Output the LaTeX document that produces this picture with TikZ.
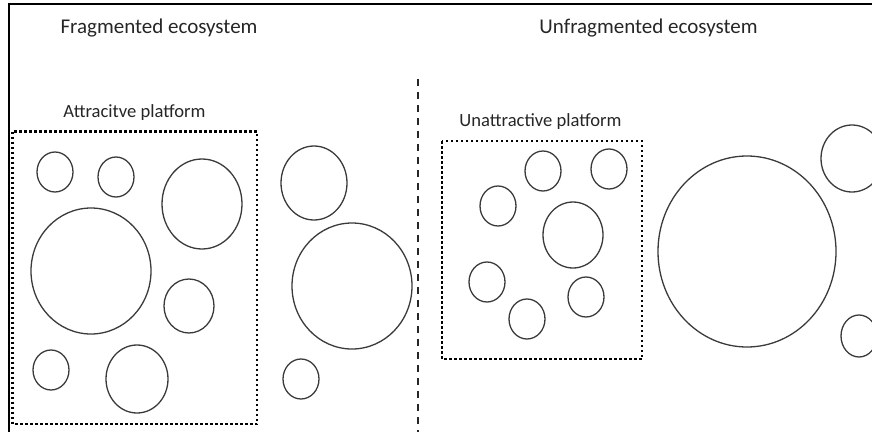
\documentclass[tikz,border=0pt]{standalone}
\usepackage{fontspec}
\setmainfont{Carlito}
\usetikzlibrary{shapes.geometric}
\definecolor{ink}{HTML}{262626}
\definecolor{rim}{HTML}{3A3A3A}
\tikzset{
  cell/.style={ellipse, draw=rim, line width=1.3pt, inner sep=0pt, fill=none},
  platform/.style={draw=black, line width=2.6pt, dash pattern=on 2.5pt off 2.5pt},
  heading/.style={text=ink, font=\fontsize{21}{25}\selectfont, inner sep=0pt},
  boxlabel/.style={text=ink, font=\fontsize{18.6}{22}\selectfont, inner sep=0pt},
  divider/.style={draw=ink, line width=1.8pt, dash pattern=on 7pt off 6pt},
  frame/.style={draw=black, line width=2pt}
}
\newcommand{\cellat}[5]{\node[cell, minimum width=#4pt, minimum height=#5pt] (#1) at (#2,#3) {};}
\begin{document}
\begin{tikzpicture}[x=1pt, y=-1pt]
  \useasboundingbox (0,0) rectangle (872,431);
  \clip (0,0) rectangle (872,431);
  % outer frame: top and left edges only
  \coordinate (fTL) at (9,4);
  \coordinate (fTR) at (873,4);
  \coordinate (fBL) at (9,432);
  \draw[frame] (fTR) -- (fTL) -- (fBL);

  % headings
  \node[heading] (hFrag) at (159,28.5) {Fragmented ecosystem};
  \node[heading] (hUnfrag) at (648.5,28.5) {Unfragmented ecosystem};

  % divider between the two ecosystems
  \coordinate (dTop) at (418,79);
  \coordinate (dBot) at (418,436);
  \draw[divider] (dTop) -- (dBot);

  % fragmented side: attractive platform
  \node[boxlabel] (lAttr) at (134.5,112.5) {Attracitve platform};
  \coordinate (pA1) at (12.5,131.5);
  \coordinate (pA2) at (257,424);
  \draw[platform] (pA1) rectangle (pA2);
  \cellat{a1}{55}{172}{36}{40}
  \cellat{a2}{116}{177}{36}{40}
  \cellat{a3}{202}{204}{80}{90}
  \cellat{a4}{91}{271}{120}{126}
  \cellat{a5}{189}{306}{50}{54}
  \cellat{a6}{51}{370}{36}{40}
  \cellat{a7}{137}{379}{62}{68}
  % fragmented side: firms outside the platform
  \cellat{o1}{314}{183}{66}{74}
  \cellat{o2}{352}{286}{120}{126}
  \cellat{o3}{301}{379}{36}{40}

  % unfragmented side: unattractive platform
  \node[boxlabel] (lUnattr) at (540.5,121.5) {Unattractive platform};
  \coordinate (pB1) at (442,141);
  \coordinate (pB2) at (642,359);
  \draw[platform] (pB1) rectangle (pB2);
  \cellat{b1}{543}{171}{36}{40}
  \cellat{b2}{609}{169}{36}{40}
  \cellat{b3}{498}{206}{36}{40}
  \cellat{b4}{573}{235}{60}{66}
  \cellat{b5}{487}{282}{36}{40}
  \cellat{b6}{586}{297}{36}{40}
  \cellat{b7}{527}{319}{36}{40}
  % unfragmented side: firms outside the platform
  \cellat{u1}{747}{251.5}{178}{191}
  \cellat{u2}{852}{158.5}{62}{67}
  \cellat{u3}{859}{336}{36}{42}
\end{tikzpicture}
\end{document}
